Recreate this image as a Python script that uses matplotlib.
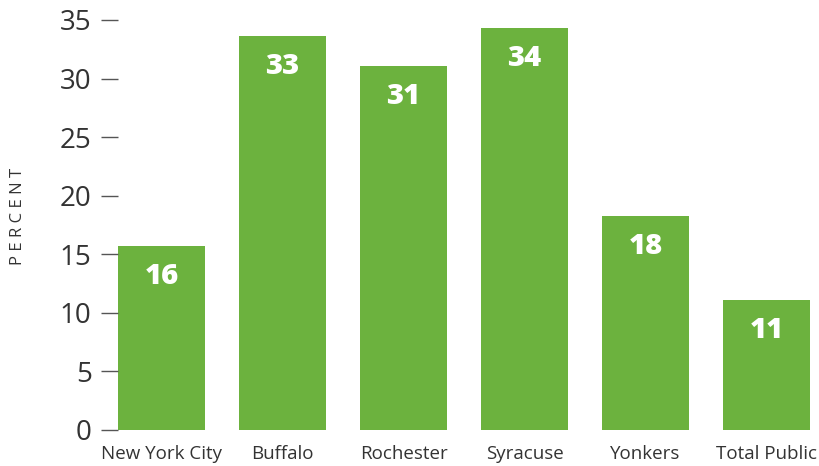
import matplotlib
matplotlib.use("Agg")
import matplotlib.pyplot as plt

categories = ["New York City", "Buffalo", "Rochester", "Syracuse", "Yonkers", "Total Public"]
values = [15.7, 33.6, 31.1, 34.3, 18.3, 11.1]
labels = ["16", "33", "31", "34", "18", "11"]
yticks = [0, 5, 10, 15, 20, 25, 30, 35]

green = "#6cb23e"
txt = "#333333"

plt.rcParams['font.family'] = ['Open Sans', 'DejaVu Sans']
fig = plt.figure(figsize=(8.19, 4.66), dpi=100)
ax = fig.add_axes([118/819, 1-430/466, (810-118)/819, 410/466])
x = list(range(len(categories)))
bars = ax.bar(x, values, width=0.72, color=green)
ax.set_xlim(-0.36, len(categories) - 1 + 0.36)
ax.set_ylim(0, 35)
ax.set_yticks(yticks)
ax.set_yticklabels([str(t) for t in yticks], fontsize=20, color=txt)
ax.set_xticks(x)
ax.set_xticklabels(categories, fontsize=13.5, color=txt)
ax.tick_params(axis='y', length=12, width=1.0, color="#555555", pad=7, direction='out')
ax.tick_params(axis='x', length=0, pad=11)
for s in ax.spines.values():
    s.set_visible(False)
for b, lab in zip(bars, labels):
    ax.annotate(lab, (b.get_x() + b.get_width()/2, b.get_height()),
                xytext=(0, -22), textcoords='offset points', ha='center', va='center',
                color='white', fontsize=21, fontweight=800)
fig.text(18/819, 1-216/466, "P E R C E N T", rotation=90, ha='center', va='center',
         fontsize=12, color=txt)
fig.savefig("out.png", dpi=100)
